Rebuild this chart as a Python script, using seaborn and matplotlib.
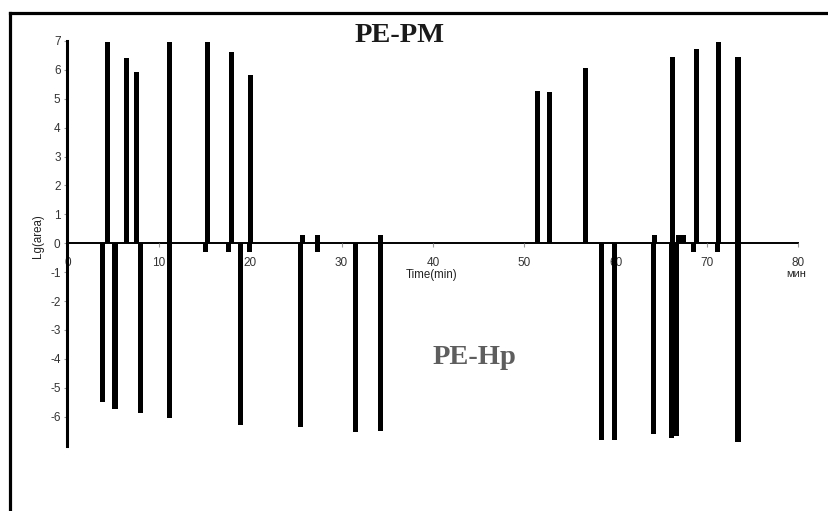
import numpy as np
import pandas as pd
import matplotlib
matplotlib.use("Agg")
import matplotlib.pyplot as plt
from matplotlib.lines import Line2D
import seaborn as sns

# ---- data ----
pm_time = [4.4, 6.5, 7.5, 11.2, 15.3, 17.9, 20.05, 25.7, 27.35, 34.3,
           51.4, 52.8, 56.7, 64.3, 66.2, 66.9, 67.4, 68.9, 71.3, 73.4]
pm_lg = [6.95, 6.42, 5.92, 6.95, 6.95, 6.62, 5.82, 0.3, 0.3, 0.3,
         5.28, 5.24, 6.08, 0.3, 6.43, 0.3, 0.3, 6.74, 6.95, 6.43]

hp_time = [3.8, 5.2, 8.0, 11.2, 15.1, 17.6, 18.95, 19.9, 25.5, 27.35,
           31.5, 34.3, 58.5, 59.9, 64.2, 66.1, 66.7, 68.5, 71.2, 73.4]
hp_lg = [-5.48, -5.73, -5.88, -6.05, -0.29, -0.29, -6.29, -0.29, -6.35, -0.3,
         -6.54, -6.5, -6.8, -6.8, -6.6, -6.75, -6.66, -0.3, -0.3, -6.88]

x_ticks = [0, 10, 20, 30, 40, 50, 60, 70, 80]
y_ticks = [-6, -5, -4, -3, -2, -1, 0, 1, 2, 3, 4, 5, 6, 7]

title_top = "PE-PM"
title_bottom = "PE-Hp"
x_label = "Time(min)"
x_unit = "мин"
y_label = "Lg(area)"

# ---- style ----
sns.set_style("white")
plt.rcParams["font.family"] = ["Liberation Sans", "DejaVu Sans"]

fig = plt.figure(figsize=(8.29, 5.11), dpi=100)
ax = fig.add_axes([67.5 / 829, 1 - 445.6 / 511, 730.8 / 829, (445.6 - 41) / 511])

bar_w = 0.55  # data units


def draw(times, vals):
    df = pd.DataFrame({"t": times, "v": vals})
    min_gap = np.min(np.diff(np.unique(df["t"])))
    sns.barplot(data=df, x="t", y="v", native_scale=True, orient="x",
                errorbar=None, color="black", saturation=1,
                width=bar_w / min_gap, linewidth=0, ax=ax)


draw(pm_time, pm_lg)
draw(hp_time, hp_lg)

ax.set_xlim(0, 80)
ax.set_ylim(-7, 7)
ax.set_xticks(x_ticks)
ax.set_xticklabels([str(v) for v in x_ticks])
ax.set_yticks(y_ticks)
ax.set_yticklabels([str(v) for v in y_ticks])
ax.set_xlabel("")
ax.set_ylabel("")

for s in ["top", "right"]:
    ax.spines[s].set_visible(False)
ax.spines["bottom"].set_position(("data", 0))
ax.spines["bottom"].set_linewidth(1.4)
ax.spines["bottom"].set_color("black")
ax.spines["left"].set_linewidth(2.2)
ax.spines["left"].set_color("black")
ax.spines["bottom"].set_zorder(0.5)

ax.tick_params(axis="x", direction="out", length=3, width=0.8, color="#999999",
               labelsize=8.5, labelcolor="#333333", pad=7, bottom=True)
ax.tick_params(axis="y", direction="out", length=2, width=0.8, color="#999999",
               labelsize=8.5, labelcolor="#333333", pad=3, left=True)
ax.patch.set_alpha(0)

# axis texts
ax.text(39.9, (243.3 - 275) / 28.9, x_label, ha="center", va="center",
        fontsize=8.3, color="#222222")
ax.text(79.8, (243.3 - 274) / 28.9, x_unit, ha="center", va="center",
        fontsize=8, color="#222222")
fig.text(38 / 829, 1 - 236 / 511, y_label, rotation=90, ha="center",
         va="center", fontsize=8.3, color="#222222")

# titles
fig.text(400 / 829, 1 - 35.5 / 511, title_top, ha="center", va="center",
         fontsize=20.5, fontweight="bold", family="Liberation Serif",
         color="#1a1a1a")
fig.text(475 / 829, 1 - 358 / 511, title_bottom, ha="center", va="center",
         fontsize=20.5, fontweight="bold", family="Liberation Serif",
         color="#5e5e5e")

# outer frame (top and left edges)
fig.add_artist(Line2D([10.5 / 829, 10.5 / 829], [0, 1 - 13.5 / 511],
                      transform=fig.transFigure, color="black", lw=2.3,
                      solid_capstyle="projecting"))
fig.add_artist(Line2D([10.5 / 829, 1], [1 - 13.5 / 511, 1 - 13.5 / 511],
                      transform=fig.transFigure, color="black", lw=2.3,
                      solid_capstyle="projecting"))

fig.savefig("out.png", dpi=100)
